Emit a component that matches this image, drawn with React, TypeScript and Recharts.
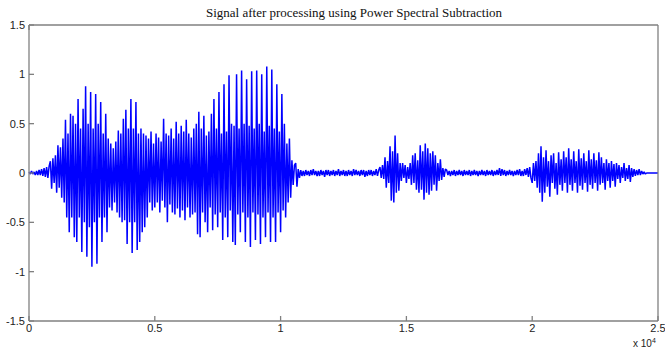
import { LineChart, Line, XAxis, YAxis } from "recharts"

// one value every 50 samples
const SAMPLE_STEP = 50

const leadIn = [0.01, -0.01, 0.02, -0.01, 0.01, -0.02, 0.02, -0.02, 0.03, -0.02, 0.04, -0.03, 0.05, -0.04, 0.06, -0.05, 0.07]

const vowel1 = [
  0.12, -0.16, 0.15, -0.1, 0.18,
  -0.2, 0.28, -0.15, 0.26, -0.25,
  0.35, -0.3, 0.54, -0.45, 0.4, -0.6,
  0.6, -0.45, 0.58, -0.65, 0.5,
  -0.7, 0.75, -0.45, 0.45, -0.8, 0.65,
  -0.5, 0.88, -0.85, 0.5, -0.55, 0.82, -0.95, 0.45, -0.5, 0.8,
  -0.92, 0.5, -0.45, 0.72, -0.7, 0.4, -0.45, 0.6, -0.6, 0.35,
]

const dip = [-0.35, 0.3, -0.38, 0.25, -0.3, 0.32, -0.4]

const vowel2 = [
  0.43, -0.45, 0.4, -0.5, 0.55, -0.48, 0.64,
  -0.72, 0.45, -0.5, 0.75, -0.81, 0.45, -0.5, 0.72, -0.78, 0.4, -0.7,
  0.45, -0.6, 0.4, -0.55, 0.38,
]

const voiced = [
  -0.45, 0.35, -0.3, 0.42, -0.38, 0.3, -0.35, 0.4, -0.3, 0.36, -0.4, 0.32, -0.28, 0.55,
  -0.35, 0.4, -0.5, 0.38, -0.32, 0.45, -0.4, 0.35, -0.42, 0.52, -0.36, 0.4, -0.45, 0.48,
  -0.38, 0.42, -0.48, 0.54, -0.35, 0.4, -0.45, 0.36, -0.42, 0.45, -0.4, 0.5, -0.62, 0.62,
]

const vowel3 = [
  -0.65, 0.45, -0.4, 0.58, -0.5, 0.38, -0.6, 0.42, -0.35, 0.6, -0.58,
  0.75, -0.42, 0.45, -0.55, 0.82, -0.4, 0.4, -0.68,
  0.9, -0.45, 0.42, -0.65, 0.99, -0.38, 0.5, -0.7,
  0.48, -0.73, 1.0, -0.42, 0.45, -0.6, 1.04, -0.4, 0.5, -0.7, 0.95,
  -0.45, 0.48, -0.75, 1.03, -0.4, 0.45, -0.68, 1.04, -0.42, 0.5,
  -0.72, 1.0, -0.45, 0.42, -0.65, 1.08, -0.4, 0.48, -0.7, 1.05, -0.45,
  0.45, -0.7, 0.9, -0.4, 0.42, -0.6, 0.8, -0.38,
  0.5, -0.45, 0.3, -0.3, 0.35, -0.25,
  0.13, -0.12, 0.08,
]

const pause1 = [
  0.1, -0.14, 0.04, -0.05, 0.03, -0.03, 0.02, -0.03, 0.03, -0.02,
  0.02, -0.03, 0.03, -0.02, 0.04, -0.02, 0.02, -0.03, 0.02, -0.03,
  0.03, -0.02, 0.02, -0.04, 0.03, -0.02, 0.03, -0.03, 0.02, -0.02,
  0.03, -0.03, 0.02, -0.02, 0.04, -0.03, 0.02, -0.02, 0.03, -0.03,
  0.02, -0.03, 0.03, -0.02, 0.02, -0.03, 0.04, -0.02, 0.03, -0.02,
  0.02, -0.03, 0.03, -0.02, 0.03, -0.04, 0.02, -0.03, 0.03, -0.02,
  0.03, -0.03, 0.02, -0.02, 0.04, -0.03, 0.03,
]

const syllables = [
  0.06, -0.05, 0.08, -0.06,
  0.16, -0.15, 0.12, -0.1,
  0.27, -0.28, 0.22,
  -0.3, 0.38,
  -0.2, 0.2, -0.18, 0.1,
  -0.08, 0.1, -0.05, 0.08, -0.1, 0.06, -0.06, 0.1,
  -0.12, 0.18, -0.1, 0.2, -0.17, 0.13,
  -0.2, 0.28, -0.17, 0.22, -0.27, 0.3, -0.2, 0.25, -0.22, 0.2, -0.18,
  0.22, -0.12, 0.18, -0.18, 0.1, -0.08, 0.14, -0.07,
  0.05, -0.04, 0.04,
]

const pause2 = [
  0.03, -0.02, 0.02, -0.03, 0.02, -0.02, 0.03, -0.03, 0.02, -0.02,
  0.03, -0.02, 0.02, -0.03, 0.03, -0.02, 0.02, -0.02, 0.03, -0.03,
  0.02, -0.02, 0.03, -0.02, 0.02, -0.03, 0.02, -0.02, 0.03, -0.02,
  0.02, -0.03, 0.03, -0.02, 0.02, -0.02, 0.03, -0.03, 0.02, -0.02,
  0.03, -0.02, 0.05, -0.03, 0.04, -0.02, 0.03, -0.03, 0.02, -0.02,
  0.03, -0.02, 0.02, -0.03, 0.02, -0.02, 0.03, -0.02, 0.04, -0.03,
  0.02, -0.03, 0.04, -0.02, 0.05, -0.04, 0.06, -0.05,
]

const lastWord = [
  -0.1, 0.1, -0.08, 0.12,
  -0.15, 0.2, -0.2, 0.27,
  -0.29, 0.16,
  -0.2, 0.23, -0.14, 0.12, -0.24, 0.18, -0.1, 0.2, -0.16, 0.1, -0.22, 0.21, -0.12, 0.14, -0.18, 0.22, -0.1, 0.16,
  -0.2, 0.25, -0.12, 0.14, -0.18, 0.22, -0.1, 0.12, -0.2, 0.24, -0.13, 0.15, -0.17, 0.2, -0.1, 0.12, -0.19, 0.23, -0.12, 0.14, -0.16, 0.2, -0.1, 0.13, -0.18, 0.21, -0.12,
  0.16, -0.1, 0.1, -0.17, 0.14, -0.08, 0.1, -0.15, 0.12, -0.08, 0.09, -0.14, 0.1,
  -0.06, 0.08, -0.1, 0.06, -0.05, 0.1, -0.08, 0.05, -0.06, 0.08, -0.09, 0.05, -0.04,
  0.04, -0.03, 0.03, -0.02, 0.04, -0.02, 0.02, -0.01, 0.01, -0.01,
]

const trailing = [0, 0, 0, 0, 0, 0, 0, 0, 0, 0]

const xTicks = [0, 5000, 10000, 15000, 20000, 25000]
const yTicks = [-1.5, -1, -0.5, 0, 0.5, 1, 1.5]

const signal = [...leadIn, ...vowel1, ...dip, ...vowel2, ...voiced, ...vowel3, ...pause1, ...syllables, ...pause2, ...lastWord, ...trailing]
const data = signal.map((v, i) => ({ n: i * SAMPLE_STEP, v }))

const axisColor = "#808080"
const tickFont = { fontSize: 11, fill: "#222", fontFamily: "Liberation Sans, Arial, sans-serif" }

export default function App() {
  return (
    <div style={{ position: "relative", width: 665, height: 358, background: "#fff" }}>
      <style>{"body{margin:0}"}</style>
      <div
        style={{
          position: "absolute",
          top: 5,
          left: 0,
          width: 708,
          textAlign: "center",
          fontFamily: "Liberation Serif, Times New Roman, serif",
          fontSize: 13,
          color: "#111",
        }}
      >
        Signal after processing using Power Spectral Subtraction
      </div>
      <LineChart width={665} height={358} data={data} margin={{ top: 24, right: 6, bottom: 36, left: 28 }}>
        <XAxis
          dataKey="n"
          type="number"
          domain={[0, 25000]}
          ticks={xTicks}
          tickFormatter={(v: number) => String(v / 10000)}
          height={1}
          stroke={axisColor}
          strokeWidth={1.3}
          tickSize={-5}
          tickMargin={8}
          tick={tickFont}
          interval={0}
        />
        <XAxis
          xAxisId="top"
          orientation="top"
          type="number"
          domain={[0, 25000]}
          ticks={xTicks}
          tickFormatter={() => ""}
          height={1}
          stroke={axisColor}
          strokeWidth={1.3}
          tickSize={-5}
          interval={0}
        />
        <YAxis
          type="number"
          domain={[-1.5, 1.5]}
          ticks={yTicks}
          width={1}
          stroke={axisColor}
          strokeWidth={1.3}
          tickSize={-5}
          tickMargin={9}
          tick={tickFont}
          interval={0}
        />
        <YAxis
          yAxisId="right"
          orientation="right"
          type="number"
          domain={[-1.5, 1.5]}
          ticks={yTicks}
          tickFormatter={() => ""}
          width={1}
          stroke={axisColor}
          strokeWidth={1.3}
          tickSize={-5}
          interval={0}
        />
        <Line
          dataKey="v"
          type="linear"
          stroke="#0000ff"
          strokeWidth={1.5}
          strokeLinejoin="miter"
          strokeMiterlimit={1}
          dot={false}
          isAnimationActive={false}
        />
      </LineChart>
      <div
        style={{
          position: "absolute",
          left: 633,
          top: 337,
          fontFamily: "Liberation Sans, Arial, sans-serif",
          fontSize: 10,
          color: "#222",
          whiteSpace: "nowrap",
        }}
      >
        x 10<sup style={{ fontSize: 7 }}>4</sup>
      </div>
    </div>
  )
}
